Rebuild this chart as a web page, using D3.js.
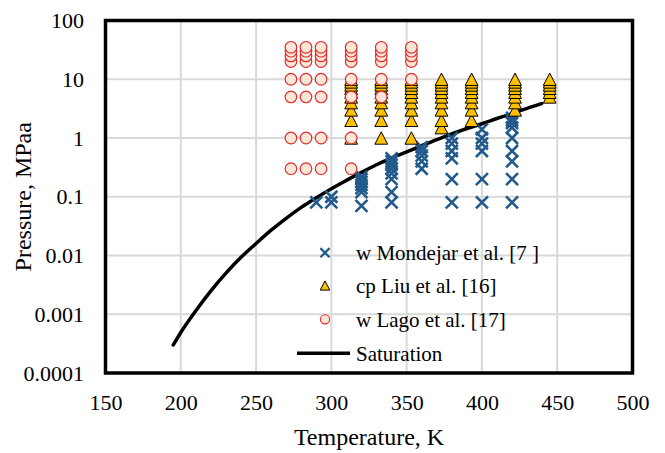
<!DOCTYPE html>
<html>
<head>
<meta charset="utf-8">
<script src="https://cdn.jsdelivr.net/npm/d3@7"></script>
<style>
  html, body { margin: 0; padding: 0; background: #ffffff; }
  svg { display: block; }
  text { font-family: "Liberation Serif", "Times New Roman", serif; fill: #000; }
</style>
</head>
<body>
<svg id="chart" width="665" height="453"></svg>
<script>
// Axis ticks
const xTicks = [150, 200, 250, 300, 350, 400, 450, 500];
const yTicks = [0.0001, 0.001, 0.01, 0.1, 1, 10, 100];
const yTickLabels = ["0.0001", "0.001", "0.01", "0.1", "1", "10", "100"];

// Saturation curve (temperature in K, pressure in MPa)
const saturationT = [195, 200, 210, 220, 230, 240, 250, 260, 270, 280, 290, 300, 310, 320, 330, 340, 350, 360, 370, 380, 390, 400, 410, 420, 430, 439.6];
const saturationP = [0.0003, 0.00049, 0.00115, 0.0025, 0.005, 0.0093, 0.016, 0.027, 0.043, 0.066, 0.096, 0.137, 0.19, 0.26, 0.35, 0.46, 0.58, 0.74, 0.94, 1.17, 1.45, 1.75, 2.15, 2.6, 3.2, 3.85];

// Speed of sound, Mondejar et al. [7]: isotherms and measured pressures
const mondejarT = [290, 300, 320, 340, 360, 380, 400, 420];
const mondejarP = [
  [0.08],
  [0.08, 0.1],
  [0.07, 0.12, 0.14, 0.16, 0.18, 0.2, 0.22],
  [0.08, 0.12, 0.2, 0.25, 0.3, 0.35, 0.4, 0.45],
  [0.3, 0.4, 0.5, 0.6, 0.7],
  [0.08, 0.2, 0.45, 0.6, 0.8, 1.0],
  [0.08, 0.2, 0.6, 0.8, 1.0, 1.4],
  [0.08, 0.2, 0.4, 0.6, 1.0, 1.5, 1.8, 2.0, 2.2]
];

// Heat capacity, Liu et al. [16]
const liuT = [313.15, 333.15, 353.15, 373.15, 393.15, 422, 445];
const liuP = [
  [1, 2, 3, 4, 5, 6, 7, 8, 9, 10],
  [1, 2, 3, 4, 5, 6, 7, 8, 9, 10],
  [1, 2, 3, 4, 5, 6, 7, 8, 9, 10],
  [1.5, 2, 3, 4, 5, 6, 7, 8, 9, 10],
  [2, 3, 4, 5, 6, 7, 8, 9, 10],
  [3, 4, 5, 6, 7, 8, 9, 10],
  [5, 6, 7, 8, 9, 10]
];

// Speed of sound, Lago et al. [17]
const lagoT = [273.15, 283.15, 293.15, 313.15, 333.15, 353.15];
const lagoP = [
  [0.3, 1, 5, 10, 20, 25, 30, 35],
  [0.3, 1, 5, 10, 20, 25, 30, 35],
  [0.3, 1, 5, 10, 20, 25, 30, 35],
  [0.3, 1, 5, 10, 20, 25, 30, 35],
  [5, 10, 20, 25, 30, 35],
  [10, 20, 25, 30, 35]
];

const legendLabels = ["w Mondejar et al. [7 ]", "cp Liu et al. [16]", "w Lago et al. [17]", "Saturation"];

(function drawChart() {
  // Colours
  const crossColor = "#235a8c";
  const triFill = "#ffc000";
  const circleFill = "#fbe5d6";
  const circleStroke = "#e02b2b";
  const gridColor = "#d9d9d9";

  const svg = d3.select("#chart");
  const plotLeft = 105.5, plotRight = 632.5, plotTop = 20.5, plotBottom = 373;

  const x = d3.scaleLinear().domain([150, 500]).range([plotLeft, plotRight]);
  const y = d3.scaleLog().domain([0.0001, 100]).range([plotBottom, plotTop]);

  // Gridlines
  const grid = svg.append("g");
  grid.selectAll("line.v").data(xTicks.slice(1, -1)).join("line")
    .attr("class", "v")
    .attr("x1", d => x(d)).attr("x2", d => x(d))
    .attr("y1", plotTop).attr("y2", plotBottom)
    .attr("stroke", gridColor).attr("stroke-width", 2);
  grid.selectAll("line.h").data(yTicks.slice(1, -1)).join("line")
    .attr("class", "h")
    .attr("x1", plotLeft).attr("x2", plotRight)
    .attr("y1", d => y(d)).attr("y2", d => y(d))
    .attr("stroke", gridColor).attr("stroke-width", 2);

  // Axes (labels only; the frame is drawn separately)
  const xAxis = d3.axisBottom(x).tickValues(xTicks).tickFormat(d3.format("d"))
    .tickSizeInner(0).tickSizeOuter(0).tickPadding(21);
  const gx = svg.append("g").attr("transform", `translate(0,${plotBottom})`).call(xAxis);
  gx.select(".domain").remove();
  gx.selectAll("text").style("font-family", "Liberation Serif").style("font-size", "22px").attr("fill", "#000");

  const yAxis = d3.axisLeft(y).tickValues(yTicks).tickFormat((d, i) => yTickLabels[i])
    .tickSizeInner(0).tickSizeOuter(0).tickPadding(21.5);
  const gy = svg.append("g").attr("transform", `translate(${plotLeft},0)`).call(yAxis);
  gy.select(".domain").remove();
  gy.selectAll("text").style("font-family", "Liberation Serif").style("font-size", "22px").attr("fill", "#000");

  // Axis titles
  svg.append("text")
    .attr("x", (plotLeft + plotRight) / 2).attr("y", 445)
    .attr("text-anchor", "middle").style("font-size", "24px")
    .text("Temperature, K");
  svg.append("text")
    .attr("transform", `translate(31,${(plotTop + plotBottom) / 2}) rotate(-90)`)
    .attr("text-anchor", "middle").style("font-size", "24px")
    .text("Pressure, MPaa");

  // Clip to the plot area
  svg.append("clipPath").attr("id", "plotClip")
    .append("rect").attr("x", plotLeft).attr("y", plotTop)
    .attr("width", plotRight - plotLeft).attr("height", plotBottom - plotTop);
  const plot = svg.append("g").attr("clip-path", "url(#plotClip)");

  // Saturation line
  const satPts = saturationT.map((t, i) => [t, saturationP[i]]);
  const line = d3.line().x(d => x(d[0])).y(d => y(d[1])).curve(d3.curveMonotoneX);
  plot.append("path").datum(satPts)
    .attr("d", line).attr("fill", "none")
    .attr("stroke", "#000").attr("stroke-width", 3.5).attr("stroke-linecap", "round");

  // Marker shapes
  const crossPath = s => `M${-s},${-s}L${s},${s}M${-s},${s}L${s},${-s}`;
  const triPath = (w, h) => `M0,${-h}L${w},${h}L${-w},${h}Z`;

  function flatten(ts, ps) {
    const out = [];
    ts.forEach((t, i) => ps[i].forEach(p => out.push([t, p])));
    return out;
  }

  // Mondejar crosses
  plot.append("g").selectAll("path").data(flatten(mondejarT, mondejarP)).join("path")
    .attr("transform", d => `translate(${x(d[0])},${y(d[1])})`)
    .attr("d", crossPath(6))
    .attr("fill", "none").attr("stroke", crossColor).attr("stroke-width", 2.6);

  // Liu triangles
  plot.append("g").selectAll("path").data(flatten(liuT, liuP)).join("path")
    .attr("transform", d => `translate(${x(d[0])},${y(d[1])})`)
    .attr("d", triPath(6.4, 6.2))
    .attr("fill", triFill).attr("stroke", "#000").attr("stroke-width", 1);

  // Lago circles
  plot.append("g").selectAll("circle").data(flatten(lagoT, lagoP)).join("circle")
    .attr("cx", d => x(d[0])).attr("cy", d => y(d[1])).attr("r", 5.8)
    .attr("fill", circleFill).attr("stroke", circleStroke).attr("stroke-width", 1.2);

  // Plot frame
  svg.append("rect")
    .attr("x", plotLeft).attr("y", plotTop)
    .attr("width", plotRight - plotLeft).attr("height", plotBottom - plotTop)
    .attr("fill", "none").attr("stroke", "#000").attr("stroke-width", 3.5);

  // Legend
  const legX = 325, textX = 356, rows = [252.7, 285.5, 319.3, 353.3];
  const leg = svg.append("g");
  leg.append("path").attr("transform", `translate(${legX},${rows[0]})`)
    .attr("d", crossPath(4.6)).attr("fill", "none").attr("stroke", crossColor).attr("stroke-width", 2.2);
  leg.append("path").attr("transform", `translate(${legX},${rows[1]})`)
    .attr("d", triPath(4.8, 4.6)).attr("fill", triFill).attr("stroke", "#000").attr("stroke-width", 1);
  leg.append("circle").attr("cx", legX).attr("cy", rows[2]).attr("r", 4.6)
    .attr("fill", circleFill).attr("stroke", circleStroke).attr("stroke-width", 1.1);
  leg.append("line").attr("x1", 297).attr("x2", 350).attr("y1", rows[3]).attr("y2", rows[3])
    .attr("stroke", "#000").attr("stroke-width", 3.5);
  leg.selectAll("text").data(legendLabels).join("text")
    .attr("x", textX).attr("y", (d, i) => rows[i] + 7.5)
    .style("font-size", "21px")
    .text(d => d);
})();
</script>
</body>
</html>
